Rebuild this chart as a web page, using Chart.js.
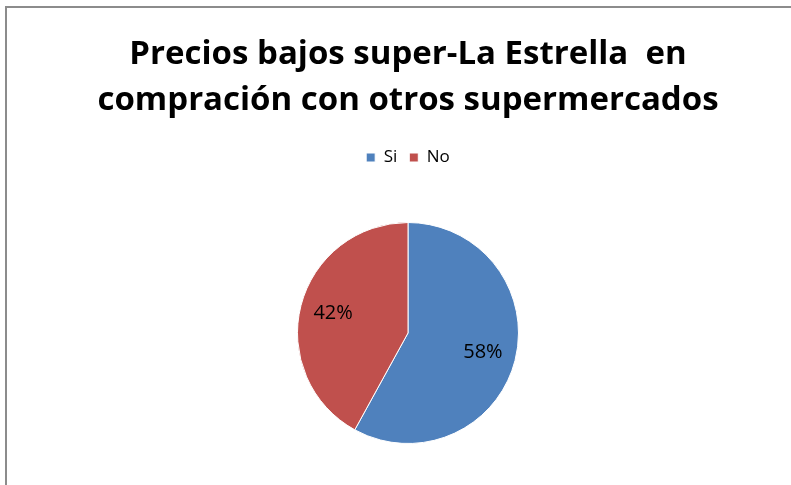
<!DOCTYPE html>
<html>
<head>
<meta charset="utf-8">
<script src="https://cdn.jsdelivr.net/npm/chart.js@4"></script>
<style>
  html, body { margin: 0; padding: 0; background: #fff; }
  #wrap { width: 791px; height: 485px; position: relative; }
</style>
</head>
<body>
<div id="wrap"><canvas id="myChart" width="791" height="485"></canvas></div>
<script>
var titleLines = ['Precios bajos super-La Estrella  en', 'compración con otros supermercados']
var categories = ['Si', 'No']
var percentages = [58, 42]
var sliceColors = ['#4F81BD', '#C0504D']

// frame lines (left + top) like the spreadsheet chart area
const framePlugin = {
  id: 'frame',
  beforeDraw(chart) {
    const c = chart.ctx
    c.save()
    c.fillStyle = '#fff'
    c.fillRect(0, 0, chart.width, chart.height)
    c.strokeStyle = '#8c8c8c'
    c.lineWidth = 2
    c.beginPath()
    c.moveTo(6, chart.height)
    c.lineTo(6, 7)
    c.lineTo(chart.width, 7)
    c.stroke()
    c.restore()
  }
}

// extra gap under the legend, so the pie sits lower
const legendGap = {
  id: 'legendGap',
  afterInit(chart) {
    const lg = chart.legend
    const fit = lg.fit
    lg.fit = function () {
      fit.call(this)
      this.height += 46
    }
  }
}

// percent labels inside the slices
const pctPlugin = {
  id: 'pct',
  afterDatasetsDraw(chart) {
    const c = chart.ctx
    const meta = chart.getDatasetMeta(0)
    c.save()
    c.font = '20px "Open Sans", sans-serif'
    c.fillStyle = '#000'
    c.textAlign = 'center'
    c.textBaseline = 'middle'
    meta.data.forEach((arc, i) => {
      const mid = (arc.startAngle + arc.endAngle) / 2
      const r = arc.outerRadius * 0.7
      c.fillText(percentages[i] + '%', arc.x + Math.cos(mid) * r, arc.y + Math.sin(mid) * r)
    })
    c.restore()
  }
}

const ctx = document.getElementById('myChart')
const chart1 = new Chart(ctx, {
  type: 'pie',
  data: {
    labels: categories,
    datasets: [{
      data: percentages,
      backgroundColor: sliceColors,
      borderColor: '#ffffff',
      borderWidth: 1
    }]
  },
  options: {
    responsive: false,
    animation: false,
    layout: { padding: { top: 32, bottom: 41, left: 25, right: 0 } },
    plugins: {
      title: {
        display: true,
        text: titleLines,
        color: '#000',
        font: { family: '"Open Sans", sans-serif', size: 33, weight: 'bold', lineHeight: 1.394 },
        padding: { top: 0, bottom: 13 }
      },
      legend: {
        display: true,
        position: 'top',
        labels: {
          color: '#000',
          boxWidth: 9,
          boxHeight: 9,
          padding: 12,
          font: { family: '"Open Sans", sans-serif', size: 17 }
        }
      },
      tooltip: { enabled: false }
    }
  },
  plugins: [framePlugin, legendGap, pctPlugin]
});
</script>
</body>
</html>
